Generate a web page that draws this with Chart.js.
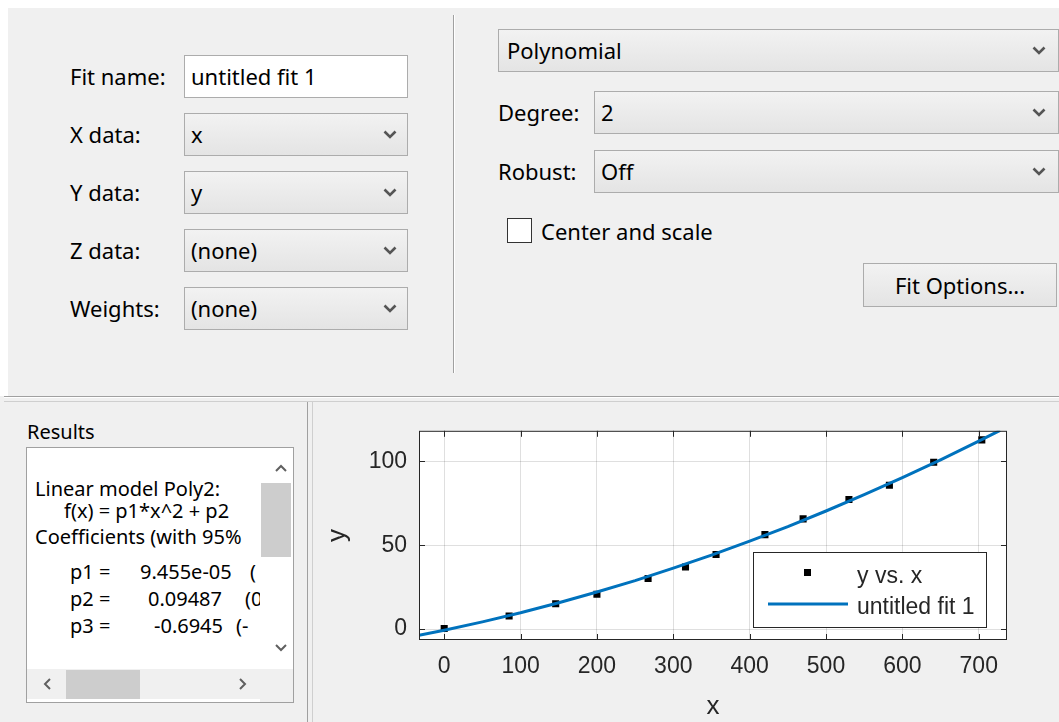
<!DOCTYPE html>
<html>
<head>
<meta charset="utf-8">
<script src="https://cdn.jsdelivr.net/npm/chart.js@4.4.0/dist/chart.umd.min.js"></script>
<style>
  html, body { margin: 0; padding: 0; }
  body { width: 1059px; height: 722px; position: relative; overflow: hidden; background: #f0f0f0; font-family: "Noto Sans", sans-serif; color: #000; }
  .a { position: absolute; }
  .lbl { position: absolute; font-size: 22px; height: 42px; line-height: 42px; white-space: nowrap; }
  .box { position: absolute; box-sizing: border-box; border: 1px solid #acacac; height: 43px; font-size: 22px; line-height: 41px; padding-left: 6px; white-space: nowrap; }
  .edit { background: #fff; }
  .drop { background: linear-gradient(#f2f2f2, #e4e4e4); }
  .chev { position: absolute; right: 10px; top: 16px; }
  .res { position: absolute; font-size: 20px; line-height: 28px; height: 28px; white-space: pre; }
</style>
</head>
<body>
<!-- top panel -->
<div class="a" style="left:0;top:0;width:1059px;height:8px;background:#fff"></div>
<div class="a" style="left:0;top:0;width:8px;height:396px;background:#fff"></div>

<div class="lbl" style="left:70px;top:55px">Fit name:</div>
<div class="box edit" style="left:184px;top:55px;width:224px">untitled fit 1</div>

<div class="lbl" style="left:70px;top:113px">X data:</div>
<div class="box drop" style="left:184px;top:113px;width:224px">x<svg class="chev" width="14" height="9"><polyline points="1.5,1.5 7,7 12.5,1.5" fill="none" stroke="#555" stroke-width="2.6"/></svg></div>

<div class="lbl" style="left:70px;top:171px">Y data:</div>
<div class="box drop" style="left:184px;top:171px;width:224px">y<svg class="chev" width="14" height="9"><polyline points="1.5,1.5 7,7 12.5,1.5" fill="none" stroke="#555" stroke-width="2.6"/></svg></div>

<div class="lbl" style="left:70px;top:229px">Z data:</div>
<div class="box drop" style="left:184px;top:229px;width:224px">(none)<svg class="chev" width="14" height="9"><polyline points="1.5,1.5 7,7 12.5,1.5" fill="none" stroke="#555" stroke-width="2.6"/></svg></div>

<div class="lbl" style="left:70px;top:287px">Weights:</div>
<div class="box drop" style="left:184px;top:287px;width:224px">(none)<svg class="chev" width="14" height="9"><polyline points="1.5,1.5 7,7 12.5,1.5" fill="none" stroke="#555" stroke-width="2.6"/></svg></div>

<div class="a" style="left:453px;top:15px;width:1px;height:358px;background:#a0a0a0"></div>
<div class="a" style="left:454px;top:15px;width:1px;height:358px;background:#fff"></div>

<div class="box drop" style="left:498px;top:29px;width:561px;padding-left:8px">Polynomial<svg class="chev" width="14" height="9" style="right:12px"><polyline points="1.5,1.5 7,7 12.5,1.5" fill="none" stroke="#555" stroke-width="2.6"/></svg></div>

<div class="lbl" style="left:498px;top:91px">Degree:</div>
<div class="box drop" style="left:594px;top:91px;width:465px">2<svg class="chev" width="14" height="9" style="right:12px"><polyline points="1.5,1.5 7,7 12.5,1.5" fill="none" stroke="#555" stroke-width="2.6"/></svg></div>

<div class="lbl" style="left:498px;top:150px">Robust:</div>
<div class="box drop" style="left:594px;top:150px;width:465px">Off<svg class="chev" width="14" height="9" style="right:12px"><polyline points="1.5,1.5 7,7 12.5,1.5" fill="none" stroke="#555" stroke-width="2.6"/></svg></div>

<div class="a" style="left:507px;top:218px;width:25px;height:25px;box-sizing:border-box;border:1px solid #333;background:#fff"></div>
<div class="lbl" style="left:541px;top:210px">Center and scale</div>

<div class="box drop" style="left:863px;top:263px;width:194px;height:44px;padding-left:0;text-align:center;line-height:42px">Fit Options...</div>

<!-- separators -->
<div class="a" style="left:4px;top:396px;width:1055px;height:1px;background:#a0a0a0"></div>
<div class="a" style="left:4px;top:397px;width:1055px;height:1px;background:#fff"></div>
<div class="a" style="left:4px;top:401px;width:1055px;height:1px;background:#cfcfcf"></div>
<div class="a" style="left:307px;top:402px;width:1px;height:320px;background:#a0a0a0"></div>
<div class="a" style="left:312px;top:402px;width:1px;height:320px;background:#cfcfcf"></div>

<!-- results panel -->
<div class="res" style="left:27px;top:418px">Results</div>
<div class="a" style="left:26px;top:447px;width:268px;height:256px;box-sizing:border-box;border:1px solid #a0a0a0;background:#fff"></div>
<div class="a" style="left:27px;top:448px;width:233px;height:221px;overflow:hidden">
  <div class="res" style="left:8px;top:27px">Linear model Poly2:</div>
  <div class="res" style="left:37px;top:49px">f(x) = p1*x^2 + p2</div>
  <div class="res" style="left:8px;top:75px">Coefficients (with 95%</div>
  <div class="res" style="left:43px;top:110px">p1 =</div>
  <div class="res" style="left:113px;top:110px">9.455e-05</div>
  <div class="res" style="left:223px;top:110px">(</div>
  <div class="res" style="left:43px;top:137px">p2 =</div>
  <div class="res" style="left:121px;top:137px">0.09487</div>
  <div class="res" style="left:218px;top:137px">(0</div>
  <div class="res" style="left:43px;top:164px">p3 =</div>
  <div class="res" style="left:127px;top:164px">-0.6945</div>
  <div class="res" style="left:209px;top:164px">(-</div>
</div>
<div class="a" style="left:261px;top:483px;width:30px;height:74px;background:#cdcdcd"></div>
<svg class="a" style="left:275px;top:464px" width="12" height="8"><polyline points="1,7 6,2 11,7" fill="none" stroke="#606060" stroke-width="2"/></svg>
<svg class="a" style="left:275px;top:644px" width="12" height="8"><polyline points="1,1 6,6 11,1" fill="none" stroke="#606060" stroke-width="2"/></svg>
<div class="a" style="left:27px;top:669px;width:233px;height:30px;background:#f0f0f0"></div>
<div class="a" style="left:260px;top:669px;width:33px;height:33px;background:#f0f0f0"></div>
<div class="a" style="left:66px;top:670px;width:74px;height:29px;background:#cdcdcd"></div>
<svg class="a" style="left:43px;top:678px" width="8" height="12"><polyline points="7,1 2,6 7,11" fill="none" stroke="#606060" stroke-width="2"/></svg>
<svg class="a" style="left:239px;top:678px" width="8" height="12"><polyline points="1,1 6,6 1,11" fill="none" stroke="#606060" stroke-width="2"/></svg>

<canvas id="fitplot" width="744" height="317" style="position:absolute;left:315px;top:405px"></canvas>

<script>
// data points (y vs. x)
const dataX = [0, 85, 146, 200, 267, 316, 356, 420, 470, 530, 583, 641, 704];
const dataY = [0.4, 7.8, 15.1, 20.8, 30.2, 37.0, 44.5, 56.3, 65.7, 77.2, 85.7, 99.4, 112.8];

// fitted curve
const fitX = [-33, 0, 50, 100, 150, 200, 250, 300, 350, 400, 450, 500, 550, 600, 650, 700, 728];
const fitY = [-3.7, -0.7, 4.3, 9.7, 15.7, 22.1, 28.9, 36.3, 44.1, 52.4, 61.1, 70.4, 80.1, 90.3, 100.9, 112.1, 118.5];

const seriesNames = ['y vs. x', 'untitled fit 1'];
const xLimits = [-33, 737];
const yLimits = [-6.5, 118.2];
const xStep = 100;
const yStep = 50;

const axisColor = '#262626';
const gridColor = 'rgba(38,38,38,0.15)';
const plotFont = '"Liberation Sans", Arial, sans-serif';

// white axes background, box, inward ticks and the boxed legend
const axesBox = {
  id: 'axesBox',
  beforeDraw(chart) {
    const { ctx, chartArea: a } = chart;
    ctx.save();
    ctx.fillStyle = '#fff';
    ctx.fillRect(a.left, a.top, a.right - a.left, a.bottom - a.top);
    ctx.restore();
  },
  afterDraw(chart) {
    const { ctx, chartArea: a, scales } = chart;
    ctx.save();
    ctx.strokeStyle = axisColor;
    ctx.lineWidth = 1;
    ctx.strokeRect(a.left + 0.5, a.top + 0.5, a.right - a.left - 1, a.bottom - a.top - 1);

    ctx.beginPath();
    scales.x.ticks.forEach(t => {
      const px = Math.round(scales.x.getPixelForValue(t.value)) + 0.5;
      ctx.moveTo(px, a.bottom); ctx.lineTo(px, a.bottom - 6);
      ctx.moveTo(px, a.top); ctx.lineTo(px, a.top + 6);
    });
    scales.y.ticks.forEach(t => {
      const py = Math.round(scales.y.getPixelForValue(t.value)) + 0.5;
      ctx.moveTo(a.left, py); ctx.lineTo(a.left + 6, py);
      ctx.moveTo(a.right, py); ctx.lineTo(a.right - 6, py);
    });
    ctx.stroke();

    // legend
    const ds = chart.data.datasets;
    const w = 234, h = 76;
    const lx = a.right - 20 - w, ly = a.bottom - 12 - h;
    ctx.fillStyle = '#fff';
    ctx.fillRect(lx, ly, w, h);
    ctx.strokeStyle = axisColor;
    ctx.strokeRect(lx + 0.5, ly + 0.5, w - 1, h - 1);
    ctx.fillStyle = ds[0].pointBackgroundColor;
    ctx.fillRect(lx + 51, ly + 17, 7, 7);
    ctx.strokeStyle = ds[1].borderColor;
    ctx.lineWidth = ds[1].borderWidth;
    ctx.beginPath();
    ctx.moveTo(lx + 15, ly + 52);
    ctx.lineTo(lx + 95, ly + 52);
    ctx.stroke();
    ctx.font = '23px ' + plotFont;
    ctx.fillStyle = axisColor;
    ctx.textBaseline = 'alphabetic';
    ctx.textAlign = 'left';
    ctx.fillText(ds[0].label, lx + 104, ly + 31);
    ctx.fillText(ds[1].label, lx + 104, ly + 62);
    ctx.restore();
  }
};

new Chart(document.getElementById('fitplot'), {
  type: 'scatter',
  data: {
    datasets: [
      {
        label: seriesNames[0],
        data: dataX.map((x, i) => ({ x: x, y: dataY[i] })),
        showLine: false,
        pointStyle: 'rect',
        pointRadius: 5,
        pointBackgroundColor: '#000',
        pointBorderColor: '#000',
        pointBorderWidth: 0,
        order: 2,
      },
      {
        label: seriesNames[1],
        data: fitX.map((x, i) => ({ x: x, y: fitY[i] })),
        showLine: true,
        borderColor: '#0072bd',
        borderWidth: 3,
        pointRadius: 0,
        fill: false,
        order: 1,
      },
    ]
  },
  options: {
    responsive: false,
    animation: false,
    layout: { padding: { top: 23, right: 52, left: 0, bottom: 0 } },
    plugins: {
      legend: { display: false },
      tooltip: { enabled: false },
    },
    scales: {
      x: {
        type: 'linear',
        min: xLimits[0],
        max: xLimits[1],
        afterFit: (s) => { s.height = 82; },
        border: { display: false },
        grid: { color: gridColor, drawTicks: false },
        ticks: {
          stepSize: xStep,
          includeBounds: false,
          padding: 13,
          color: axisColor,
          font: { family: plotFont, size: 23 },
        },
        title: {
          display: true,
          text: 'x',
          color: axisColor,
          font: { family: plotFont, size: 26 },
          padding: { top: 0, bottom: 0 },
        },
      },
      y: {
        type: 'linear',
        min: yLimits[0],
        max: yLimits[1],
        afterFit: (s) => { s.width = 104; },
        border: { display: false },
        grid: { color: gridColor, drawTicks: false },
        ticks: {
          stepSize: yStep,
          includeBounds: false,
          padding: 12,
          color: axisColor,
          font: { family: plotFont, size: 23 },
        },
        title: {
          display: true,
          text: 'y',
          color: axisColor,
          font: { family: plotFont, size: 26 },
          padding: { top: 7, bottom: 0 },
        },
      }
    }
  },
  plugins: [axesBox]
});
</script>
</body>
</html>
